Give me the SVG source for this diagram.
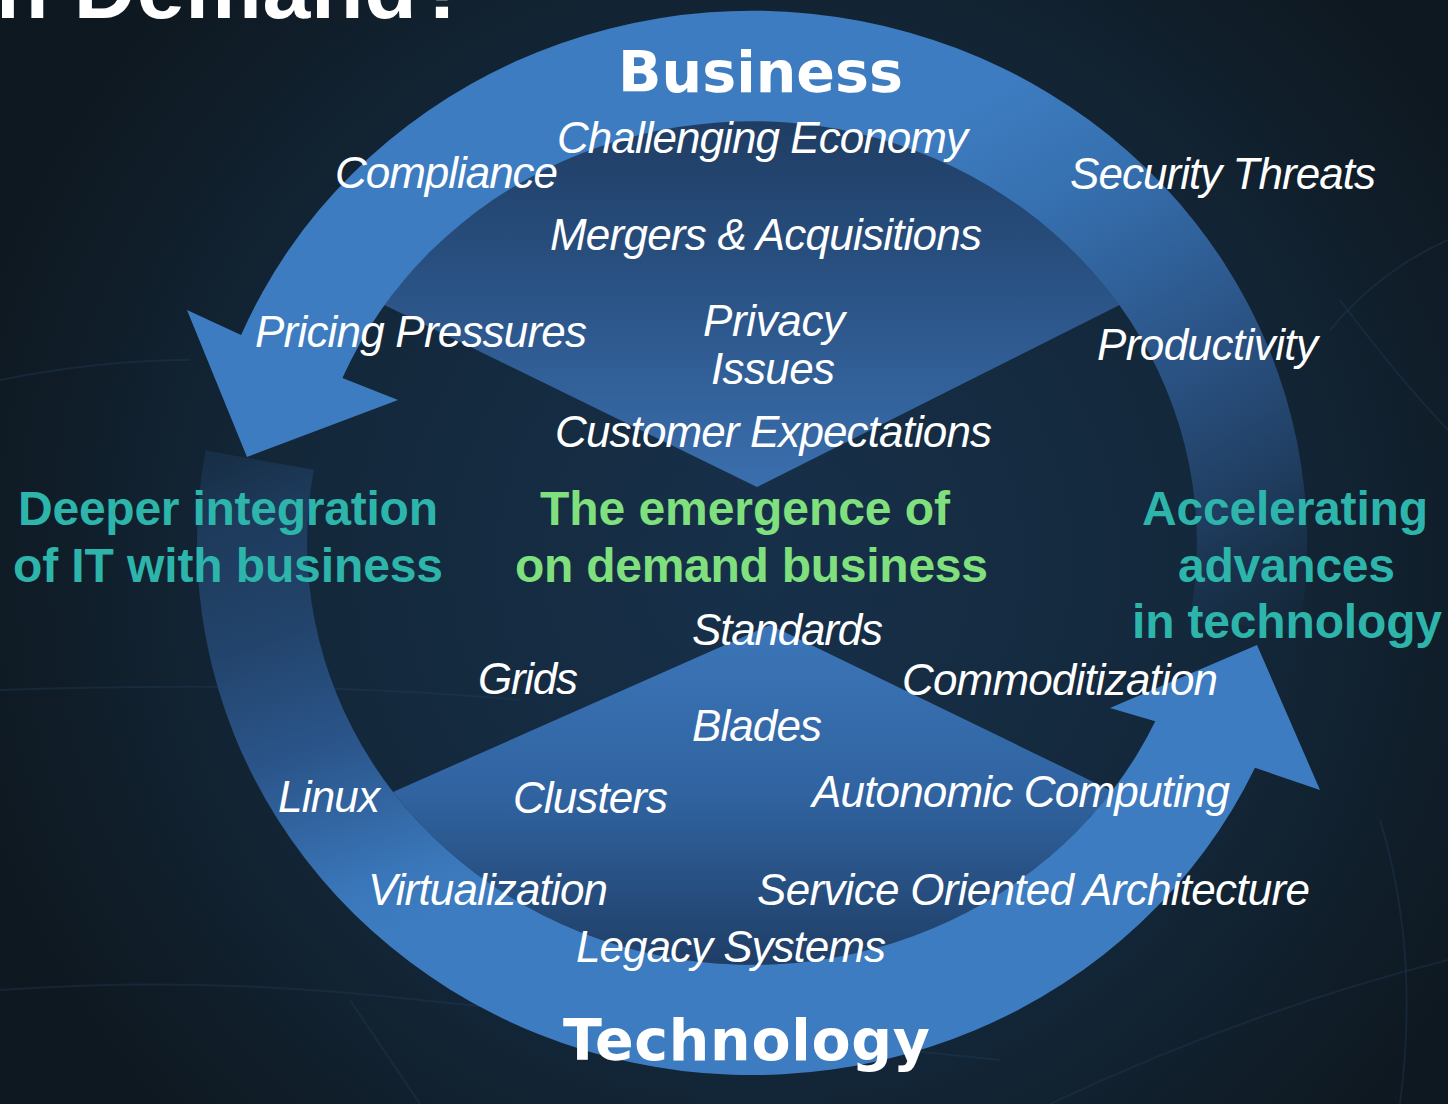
<svg xmlns="http://www.w3.org/2000/svg" width="1448" height="1104" viewBox="0 0 1448 1104">
  <defs>
    <radialGradient id="bg" cx="760" cy="560" r="820" gradientUnits="userSpaceOnUse">
      <stop offset="0" stop-color="#17304a"/>
      <stop offset="0.6" stop-color="#132739"/>
      <stop offset="1" stop-color="#0e1820"/>
    </radialGradient>
    <linearGradient id="gTop" gradientUnits="userSpaceOnUse" x1="950" y1="120" x2="1250" y2="640">
      <stop offset="0" stop-color="#3d7cc0"/>
      <stop offset="0.2" stop-color="#3670b0"/>
      <stop offset="0.55" stop-color="#2a5283"/>
      <stop offset="0.8" stop-color="#1f3c5e"/>
      <stop offset="1" stop-color="#183048" stop-opacity="0.3"/>
    </linearGradient>
    <linearGradient id="gBot" gradientUnits="userSpaceOnUse" x1="260" y1="450" x2="420" y2="920">
      <stop offset="0" stop-color="#1d3a5a" stop-opacity="0.5"/>
      <stop offset="0.12" stop-color="#1f3d60" stop-opacity="0.9"/>
      <stop offset="0.35" stop-color="#22436a"/>
      <stop offset="0.62" stop-color="#2b568c"/>
      <stop offset="0.9" stop-color="#3a77ba"/>
      <stop offset="1" stop-color="#3d7cc0"/>
    </linearGradient>
    <linearGradient id="gFunTop" gradientUnits="userSpaceOnUse" x1="0" y1="120" x2="0" y2="487">
      <stop offset="0" stop-color="#1f3d63"/>
      <stop offset="0.45" stop-color="#2a5284"/>
      <stop offset="1" stop-color="#3a6fae"/>
    </linearGradient>
    <linearGradient id="gFunBot" gradientUnits="userSpaceOnUse" x1="0" y1="625" x2="0" y2="965">
      <stop offset="0" stop-color="#3c76b9"/>
      <stop offset="0.5" stop-color="#3063a0"/>
      <stop offset="1" stop-color="#1f3e66"/>
    </linearGradient>
    <style>
      .it { font-family: "Liberation Sans", Arial, sans-serif; font-style: italic; font-size: 44px; fill: #ffffff; }
      .hd { font-family: "DejaVu Sans", "Liberation Sans", sans-serif; font-weight: bold; font-size: 57px; fill: #ffffff; }
      .teal { font-family: "Liberation Sans", Arial, sans-serif; font-weight: bold; font-size: 48px; fill: #2db5ab; }
      .green { font-family: "Liberation Sans", Arial, sans-serif; font-weight: bold; font-size: 48px; fill: #80e07e; }
      .title { font-family: "Liberation Sans", Arial, sans-serif; font-weight: bold; font-size: 86px; fill: #ffffff; }
      .grid { fill: none; stroke: #21405c; stroke-width: 2; opacity: 0.35; }
    </style>
  </defs>

  <g id="background">
    <rect x="0" y="0" width="1448" height="1104" fill="url(#bg)"/>
    <path class="grid" d="M0 690 Q300 680 520 700"/>
    <path class="grid" d="M0 990 Q200 975 420 1000 Q700 1030 1000 1060"/>
    <path class="grid" d="M350 1000 L420 1104"/>
    <path class="grid" d="M1340 300 Q1400 380 1448 430"/>
    <path class="grid" d="M1448 240 Q1380 270 1330 330"/>
    <path class="grid" d="M1050 1104 Q1250 1010 1448 960"/>
    <path class="grid" d="M1380 820 Q1420 950 1400 1104"/>
    <path class="grid" d="M0 380 Q100 360 190 360"/>
  </g>

  <g id="business-funnel">
    <path d="M384.4 305 A445 422 0 0 1 1119.6 305 L757 487 Z" fill="url(#gFunTop)"/>
  </g>
  <g id="technology-funnel">
    <path d="M393 792 L770 625 L1112 791 A445 422 0 0 1 393 792 Z" fill="url(#gFunBot)"/>
  </g>

  <g id="connectors">
    <path id="technology-arrow" d="M205.4 450.6 A555 532 0 0 0 1255 767.8 L1320 790 L1257 645 L1110 708 L1155.3 721.3 A445 422 0 0 1 313.8 469.7 Z" fill="url(#gBot)"/>
    <path id="business-arrow" d="M1298.6 635.4 A555 532 0 0 0 241.1 335.1 L187 310 L247 457 L398 400 L342.4 378.1 A445 422 0 0 1 1190.2 616.3 Z" fill="url(#gTop)"/>
  </g>

  <g id="title">
    <text class="title" x="-4" y="18" textLength="474">n Demand?</text>
  </g>

  <g id="business">
    <text class="hd" x="618" y="92" textLength="285">Business</text>
    <text class="it" x="557" y="153" textLength="411">Challenging Economy</text>
    <text class="it" x="335" y="188" textLength="223">Compliance</text>
    <text class="it" x="1070" y="189" textLength="306">Security Threats</text>
    <text class="it" x="550" y="250" textLength="432">Mergers &amp; Acquisitions</text>
    <text class="it" x="255" y="347" textLength="332">Pricing Pressures</text>
    <text class="it" x="703" y="336" textLength="142">Privacy</text>
    <text class="it" x="711" y="384" textLength="124">Issues</text>
    <text class="it" x="1097" y="360" textLength="221">Productivity</text>
    <text class="it" x="555" y="447" textLength="437">Customer Expectations</text>
  </g>

  <g id="deeper-integration">
    <text class="teal" x="18" y="525" textLength="420">Deeper integration</text>
    <text class="teal" x="13" y="582" textLength="430">of IT with business</text>
  </g>

  <g id="on-demand">
    <text class="green" x="540" y="525" textLength="410">The emergence of</text>
    <text class="green" x="515" y="582" textLength="473">on demand business</text>
  </g>

  <g id="accelerating">
    <text class="teal" x="1142" y="525" textLength="286">Accelerating</text>
    <text class="teal" x="1178" y="582" textLength="217">advances</text>
    <text class="teal" x="1132" y="638" textLength="310">in technology</text>
  </g>

  <g id="technology">
    <text class="it" x="692" y="645" textLength="191">Standards</text>
    <text class="it" x="478" y="694" textLength="100">Grids</text>
    <text class="it" x="902" y="695" textLength="316">Commoditization</text>
    <text class="it" x="692" y="741" textLength="130">Blades</text>
    <text class="it" x="278" y="812" textLength="102">Linux</text>
    <text class="it" x="513" y="813" textLength="155">Clusters</text>
    <text class="it" x="812" y="807" textLength="418">Autonomic Computing</text>
    <text class="it" x="368" y="905" textLength="240">Virtualization</text>
    <text class="it" x="757" y="905" textLength="553">Service Oriented Architecture</text>
    <text class="it" x="576" y="962" textLength="310">Legacy Systems</text>
    <text class="hd" x="563" y="1060" textLength="367">Technology</text>
  </g>
</svg>
